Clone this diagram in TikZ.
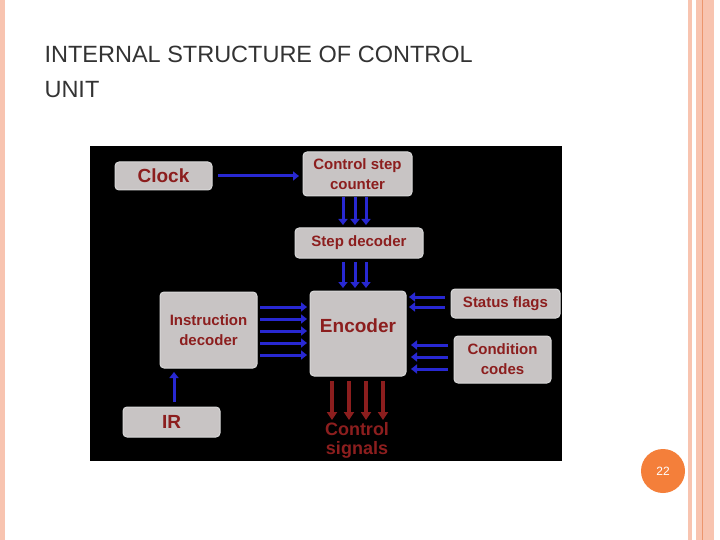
\documentclass[tikz,border=0pt]{standalone}
\usepackage{fontspec}
\setmainfont{Liberation Sans}
\usetikzlibrary{arrows.meta}
\definecolor{box}{RGB}{200,196,196}
\definecolor{txt}{RGB}{140,30,30}
\definecolor{arr}{RGB}{40,40,210}
\definecolor{peach}{RGB}{248,196,176}
\definecolor{peachd}{RGB}{236,150,110}
\definecolor{orng}{RGB}{244,127,58}
\begin{document}
\begin{tikzpicture}[x=1pt,y=-1pt,
  bx/.style={draw=white!70!gray,fill=box,rounded corners=4pt,line width=1pt,inner sep=0pt,text=txt,align=center},
  big/.style={font=\fontsize{19}{22}\selectfont\bfseries},
  med/.style={font=\fontsize{15}{19}\selectfont\bfseries},
  ba/.style={arr,line width=3pt,-{Triangle[length=6pt,width=9pt]}},
  ra/.style={txt,line width=3.4pt,-{Triangle[length=8pt,width=10pt]}}]
\useasboundingbox (0,0) rectangle (720,540);
\fill[white] (0,0) rectangle (720,540);
\fill[peach] (0,0) rectangle (5,540);
\fill[peach] (688,0) rectangle (692,540);
\fill[peach] (696,0) rectangle (714,540);
\draw[peachd,line width=0.8pt] (702,0) -- (702,540);
\node[anchor=west,font=\fontsize{23.5}{35}\selectfont,text=black!80,align=left] (title) at (41,72) {INTERNAL STRUCTURE OF CONTROL\\UNIT};
\fill[black] (90,146) rectangle (562,461);
\node[bx,big,minimum width=97,minimum height=28] (clk) at (163.5,176) {Clock};
\node[bx,med,minimum width=109,minimum height=44,font=\fontsize{15}{20}\selectfont\bfseries] (csc) at (357.5,174) {Control step\\counter};
\node[bx,med,minimum width=128,minimum height=30] (sd) at (359,243) {Step decoder};
\node[bx,big,minimum width=96,minimum height=85,text depth=16pt] (enc) at (358,333.5) {Encoder};
\node[bx,med,minimum width=97,minimum height=76,font=\fontsize{15}{20}\selectfont\bfseries] (id) at (208.5,330) {Instruction\\decoder};
\node[bx,big,minimum width=97,minimum height=30] (ir) at (171.5,422) {IR};
\node[bx,med,minimum width=109,minimum height=29] (sf) at (505.5,303.5) {Status flags};
\node[bx,med,minimum width=97,minimum height=47,font=\fontsize{15}{20}\selectfont\bfseries] (cc) at (502.5,359.5) {Condition\\codes};
\node[text=txt,font=\fontsize{18}{19}\selectfont\bfseries,align=center,inner sep=0pt] (cs) at (357,440) {Control\\signals};
\draw[ba] (218,176) -- (299,176);
\foreach \x in {343,355,366}{
  \draw[ba] (\x,197) -- (\x,225);
  \draw[ba] (\x,262) -- (\x,288);}
\foreach \y in {307,319,331,343,355} \draw[ba] (260,\y) -- (307,\y);
\foreach \y in {297,307} \draw[ba] (445,\y) -- (409,\y);
\foreach \y in {345,357,369} \draw[ba] (448,\y) -- (411,\y);
\draw[ba] (174,402) -- (174,372);
\foreach \x in {332,349,366,383} \draw[ra] (\x,381) -- (\x,420);
\fill[orng] (663,471) circle (22);
\node[text=white,font=\fontsize{12}{14}\selectfont] (pg) at (663,471) {22};
\end{tikzpicture}
\end{document}
